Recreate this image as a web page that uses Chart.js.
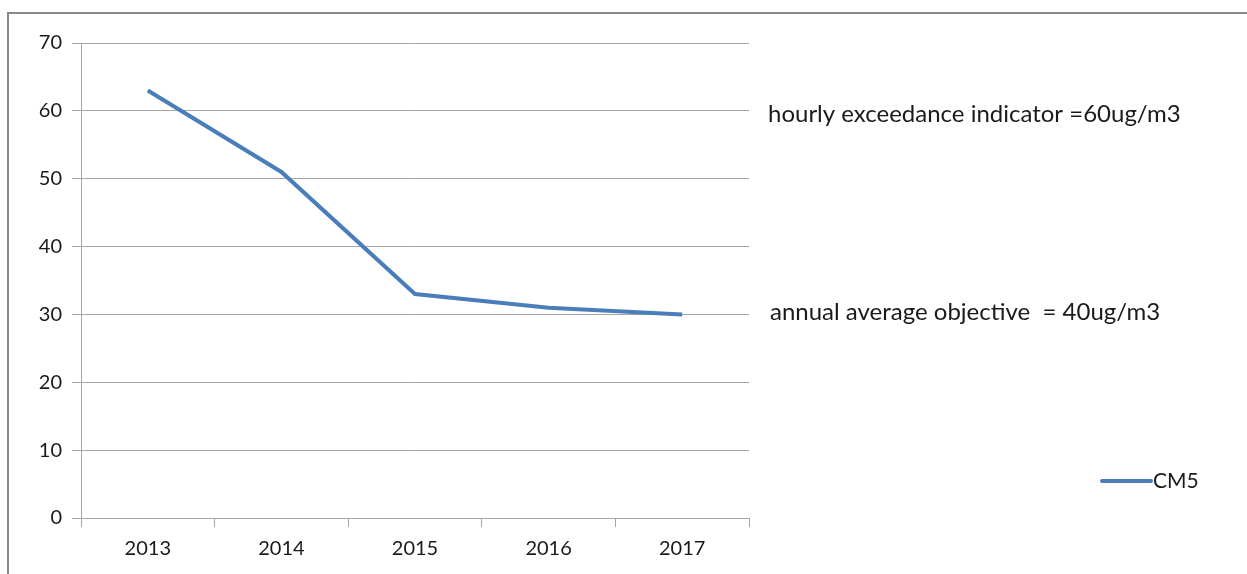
<!DOCTYPE html>
<html>
<head>
<meta charset="utf-8">
<script src="https://cdn.jsdelivr.net/npm/chart.js@4/dist/chart.umd.min.js"></script>
<style>
  html, body { margin: 0; padding: 0; background: #fff; }
  #wrap { width: 1247px; height: 574px; position: relative; }
</style>
</head>
<body>
<div id="wrap"><canvas id="chart0" width="1247" height="574"></canvas></div>
<script>
// data
const years = ['2013', '2014', '2015', '2016', '2017'];
const cm5 = [63, 51, 33, 31, 30];
const seriesName = 'CM5';
const notes = ['hourly exceedance indicator =60ug/m3', 'annual average objective  = 40ug/m3'];
const noteValues = [60, 30];

const FONT = 'Lato, "Open Sans", sans-serif';
const lineColor = '#4a7ebb';
const gridColor = '#a6a6a6';

// frame, side notes and legend drawn on canvas
const extras = {
    id: 'extras',
    afterDraw(chart) {
        const ctx = chart.ctx;
        const y = chart.scales.y;
        ctx.save();
        ctx.strokeStyle = '#888888';
        ctx.lineWidth = 2;
        ctx.beginPath();
        ctx.moveTo(8, 574);
        ctx.lineTo(8, 13);
        ctx.lineTo(1247, 13);
        ctx.stroke();

        ctx.fillStyle = '#1a1a1a';
        ctx.font = '24px ' + FONT;
        ctx.textBaseline = 'middle';
        ctx.fillText(notes[0], 768, y.getPixelForValue(noteValues[0]) + 3);
        ctx.fillText(notes[1], 770, y.getPixelForValue(noteValues[1]) - 2);

        // legend
        ctx.strokeStyle = lineColor;
        ctx.lineWidth = 4;
        ctx.lineCap = 'round';
        ctx.beginPath();
        ctx.moveTo(1102, 481);
        ctx.lineTo(1151, 481);
        ctx.stroke();
        ctx.font = '21px ' + FONT;
        ctx.fillText(seriesName, 1153, 481);
        ctx.restore();
    }
};

const ctx = document.getElementById('chart0').getContext('2d');
const chart0 = new Chart(ctx, {
    type: 'line',
    data: {
        labels: years,
        datasets: [{
            label: seriesName,
            data: cm5,
            borderColor: lineColor,
            borderWidth: 4,
            pointRadius: 0,
            tension: 0,
            fill: false
        }]
    },
    options: {
        responsive: false,
        animation: false,
        devicePixelRatio: 1,
        layout: { padding: { left: 0, top: 43, right: 498, bottom: 0 } },
        plugins: {
            legend: { display: false },
            tooltip: { enabled: false }
        },
        scales: {
            x: {
                offset: true,
                grid: {
                    offset: true,
                    drawOnChartArea: false,
                    drawTicks: true,
                    tickLength: 9,
                    color: gridColor
                },
                border: { color: gridColor, width: 1 },
                ticks: { color: '#1a1a1a', font: { family: FONT, size: 20 }, padding: 10, maxRotation: 0 },
                afterFit(axis) { axis.height = 56; }
            },
            y: {
                min: 0,
                max: 70,
                ticks: { stepSize: 10, color: '#1a1a1a', font: { family: FONT, size: 20 }, padding: 10 },
                grid: { color: gridColor, tickLength: 9 },
                border: { color: gridColor, width: 1 },
                afterFit(axis) { axis.width = 81; }
            }
        }
    },
    plugins: [extras]
});
</script>
</body>
</html>
